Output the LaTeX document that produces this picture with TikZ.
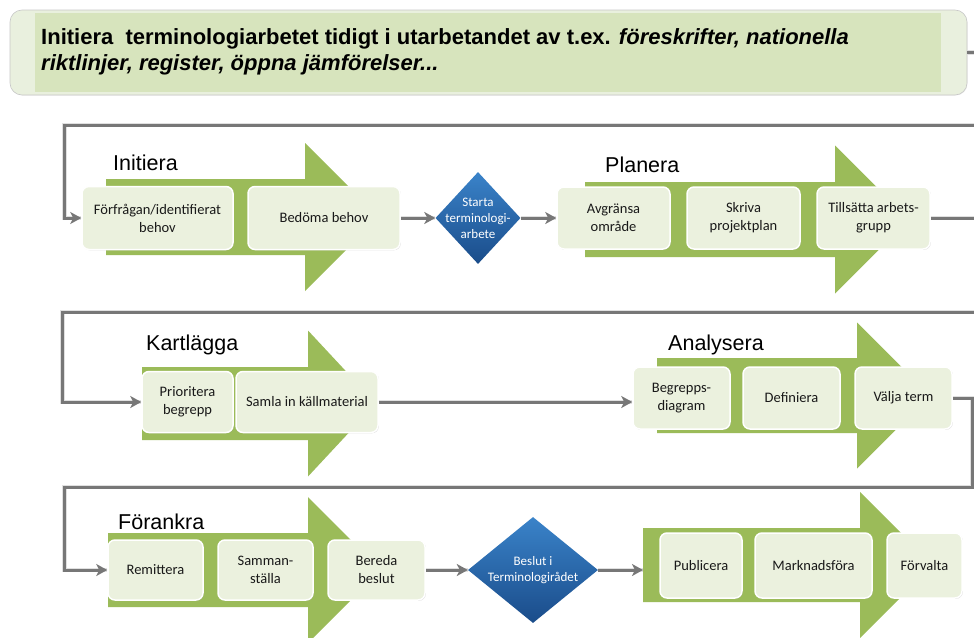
\documentclass[tikz,border=0pt]{standalone}
\usepackage{fontspec}
\setmainfont{Carlito}
\newfontfamily\arialfont{Liberation Sans}
\usetikzlibrary{shapes.geometric,arrows.meta,shadows,calc}
\definecolor{bannergreen}{HTML}{D7E4BD}
\definecolor{bannerpale}{HTML}{E9F0DE}
\definecolor{arrowgreen}{HTML}{9BBB59}
\definecolor{boxfill}{HTML}{EBF1DE}
\definecolor{linegray}{HTML}{777777}
\definecolor{bluetop}{HTML}{3A83C9}
\definecolor{bluebot}{HTML}{1A4C8A}
\newcommand\grarrow[6]{%
  \fill[arrowgreen] (#1,#4-#5) -- (#2,#4-#5) -- (#2,#4-#6) -- (#3,#4) -- (#2,#4+#6) -- (#2,#4+#5) -- (#1,#4+#5) -- cycle;}
\tikzset{
  stepbox/.style={rounded corners=7pt, fill=boxfill, draw=white, line width=1.5pt,
    align=center, font=\fontsize{14.5}{18}\selectfont, text=black!90, inner sep=0pt,
    drop shadow={shadow xshift=0.8pt, shadow yshift=-0.8pt, opacity=0.3}},
  decision/.style={diamond, top color=bluetop, bottom color=bluebot, draw=none, inner sep=0pt},
  dtext/.style={text=white, align=center, font=\fontsize{13}{16}\selectfont},
  phase/.style={anchor=west, inner sep=0pt, font=\arialfont\fontsize{21.5}{24}\selectfont},
  conn/.style={draw=linegray, line width=3pt, line join=miter,
    -{Stealth[length=11pt,width=12pt,inset=3pt]},
    preaction={draw=black!12, line width=4.5pt, -{}}}
}
\begin{document}
\begin{tikzpicture}[x=1pt,y=-1pt]
\useasboundingbox (0,0) rectangle (974,637);
% banner
\node[fill=bannerpale, draw=black!22, line width=0.6pt, rounded corners=12pt, minimum width=957pt, minimum height=85pt, inner sep=0pt,
  drop shadow={shadow xshift=0.6pt, shadow yshift=-0.6pt, opacity=0.12}] (banner) at (488.5,52.5) {};
\fill[bannergreen] (35,13) rectangle (941,92);
\node[anchor=west, inner sep=0pt, align=left, font=\arialfont\bfseries\fontsize{22}{26}\selectfont] (bannertext) at (41,52)
  {Initiera\ \ terminologiarbetet tidigt i utarbetandet av t.ex. \textit{föreskrifter, nationella}\\\textit{riktlinjer, register, öppna jämförelser...}};

% green arrows
\grarrow{106}{305}{379}{217}{38}{74}
\grarrow{585}{835}{909}{219.5}{37.5}{74}
\grarrow{142}{308}{376}{403.5}{36.5}{73}
\grarrow{657}{857}{930}{395.5}{37.5}{73}
\grarrow{108}{308}{381}{570}{37}{73}
\grarrow{643}{860}{933}{565}{37}{73}
\coordinate (e6) at (643,570);

% phase titles
\node[phase] (tinit) at (113,163) {Initiera};
\node[phase] (tplan) at (605,165) {Planera};
\node[phase] (tkart) at (146,345) {Kartlägga};
\node[phase] (tanal) at (668,345) {Analysera};
\node[phase] (tfora) at (118,522) {Förankra};

% row 1
\node[stepbox, minimum width=151pt, minimum height=63pt] (b1) at (157.5,218) {Förfrågan/identifierat\\behov};
\node[stepbox, minimum width=152pt, minimum height=63pt] (b2) at (324,218) {Bedöma behov};
\node[decision, minimum width=85pt, minimum height=92pt,
  label={[dtext]center:Starta\\terminologi-\\arbete}] (d1) at (478,218) {};
\node[stepbox, minimum width=113pt, minimum height=62pt] (b3) at (613.5,218) {Avgränsa\\område};
\node[stepbox, minimum width=113pt, minimum height=62pt] (b4) at (743.5,218) {Skriva\\projektplan};
\node[stepbox, minimum width=113pt, minimum height=62pt] (b5) at (873.5,218) {Tillsätta arbets-\\grupp};

% row 2
\node[stepbox, minimum width=91pt, minimum height=61pt] (p1) at (187.5,402) {Prioritera\\begrepp};
\node[stepbox, minimum width=142pt, minimum height=61pt] (s1) at (307,402) {Samla in källmaterial};
\node[stepbox, minimum width=97pt, minimum height=62pt] (a1) at (681.5,398) {Begrepps-\\diagram};
\node[stepbox, minimum width=97pt, minimum height=62pt] (a2) at (791.5,398) {Definiera};
\node[stepbox, minimum width=97pt, minimum height=62pt] (a3) at (903.5,398) {Välja term};

% row 3
\node[stepbox, minimum width=95pt, minimum height=60pt] (r1) at (155.5,570) {Remittera};
\node[stepbox, minimum width=95pt, minimum height=60pt] (r2) at (265.5,570) {Samman-\\ställa};
\node[stepbox, minimum width=97pt, minimum height=60pt] (r3) at (376.5,570) {Bereda\\beslut};
\node[decision, minimum width=130pt, minimum height=106pt,
  label={[dtext]center:Beslut i\\Terminologirådet}] (d2) at (533,570) {};
\node[stepbox, minimum width=82pt, minimum height=65pt] (f1) at (701,565.5) {Publicera};
\node[stepbox, minimum width=117pt, minimum height=65pt] (f2) at (813.5,565.5) {Marknadsföra};
\node[stepbox, minimum width=75pt, minimum height=65pt] (f3) at (924.5,565.5) {Förvalta};

% waypoints
\coordinate (w1) at (985,125);
\coordinate (w2) at (985,312);
\coordinate (w3) at (972,487);

% connectors
\draw[conn] (banner.east) -| (w1) -| ([xshift=-17pt]b1.west) -- (b1.west);
\draw[conn] (b2.east) -- (d1.west);
\draw[conn] (d1.east) -- (b3.west);
\draw[conn] (b5.east) -| (w2) -| ([xshift=-79pt]p1.west) -- (p1.west);
\draw[conn] (s1.east) -- (s1.east -| a1.west);
\draw[conn] (a3.east) -| (w3) -| ([xshift=-43pt]r1.west) -- (r1.west);
\draw[conn] (r3.east) -- (d2.west);
\draw[conn] (d2.east) -- (e6);
\end{tikzpicture}
\end{document}
